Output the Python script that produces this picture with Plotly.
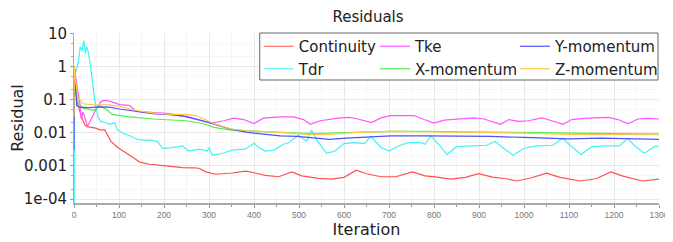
import plotly.graph_objects as go

# ---------------- data ----------------
cont_it = [0, 3, 9, 16, 24, 31, 46, 60, 68, 82, 97, 110, 124, 146, 168, 205, 241, 267, 278, 293, 315, 352,
           381, 400, 425, 455, 484, 506, 543, 572, 600, 627, 650, 682, 715, 752, 780, 807, 837, 870, 899, 930,
           960, 984, 1015, 1050, 1080, 1124, 1160, 1193, 1220, 1263, 1300]
cont_val = [1.0, 0.2, 0.068, 0.032, 0.017, 0.015, 0.014, 0.012, 0.0125, 0.0055, 0.0036, 0.0028, 0.0021,
            0.0013, 0.00112, 0.001, 0.00089, 0.00087, 0.00085, 0.00066, 0.00056, 0.00061, 0.00069, 0.00062,
            0.00052, 0.00047, 0.00066, 0.0005, 0.00042, 0.0004, 0.00045, 0.00074, 0.00058, 0.00047, 0.00047,
            0.00066, 0.0005, 0.00046, 0.0004, 0.00045, 0.00058, 0.00046, 0.00041, 0.00035, 0.00043, 0.0006,
            0.00045, 0.00035, 0.00041, 0.00066, 0.00049, 0.00035, 0.0004]

tke_it = [0, 3, 8, 13, 16, 20, 25, 30, 38, 46, 60, 68, 79, 101, 116, 124, 138, 175, 212, 249, 286, 305, 311,
          333, 355, 377, 400, 421, 458, 488, 510, 525, 547, 591, 613, 631, 661, 682, 704, 756, 778, 800, 822,
          852, 889, 911, 933, 948, 966, 988, 1010, 1040, 1062, 1087, 1106, 1135, 1187, 1209, 1231, 1253, 1275,
          1300]
tke_val = [1.0, 0.5, 0.2, 0.083, 0.026, 0.042, 0.025, 0.016, 0.025, 0.043, 0.087, 0.095, 0.09, 0.071, 0.068,
           0.066, 0.044, 0.04, 0.038, 0.03, 0.023, 0.0195, 0.0204, 0.023, 0.0275, 0.025, 0.019, 0.0275, 0.03,
           0.03, 0.025, 0.018, 0.023, 0.028, 0.029, 0.026, 0.0204, 0.028, 0.033, 0.033, 0.025, 0.0195, 0.024,
           0.026, 0.028, 0.026, 0.021, 0.018, 0.025, 0.022, 0.023, 0.028, 0.023, 0.018, 0.025, 0.027, 0.029,
           0.025, 0.0185, 0.026, 0.027, 0.026]

ymom_it = [0, 1, 3, 6, 15, 35, 55, 79, 101, 138, 175, 212, 249, 286, 322, 348, 385, 421, 458, 495, 532, 568,
           605, 642, 704, 778, 852, 925, 1000, 1099, 1172, 1246, 1300]
ymom_val = [0.003, 1.0, 0.3, 0.066, 0.058, 0.057, 0.06, 0.059, 0.052, 0.044, 0.038, 0.035, 0.031, 0.023,
            0.016, 0.0129, 0.0102, 0.0089, 0.0081, 0.0078, 0.0069, 0.0063, 0.0069, 0.0072, 0.0081, 0.0081,
            0.0081, 0.0078, 0.0072, 0.0065, 0.0069, 0.0065, 0.0063]

tdr_it = [0, 1, 5, 10, 14, 18, 22, 25, 28, 31, 35, 40, 46, 53, 60, 70, 80, 90, 97, 110, 125, 138, 150, 168,
          185, 197, 215, 241, 255, 278, 296, 300, 307, 330, 352, 380, 400, 412, 425, 445, 465, 477, 499, 517,
          528, 540, 561, 580, 600, 622, 645, 660, 682, 700, 720, 742, 770, 780, 793, 810, 829, 850, 881, 917,
          936, 950, 976, 1000, 1028, 1064, 1086, 1100, 1127, 1150, 1182, 1212, 1230, 1245, 1267, 1293, 1300]
tdr_val = [1e-8, 0.8, 0.7, 1.5, 4.0, 3.0, 6.0, 2.5, 4.0, 3.0, 1.5, 0.4, 0.1, 0.03, 0.022, 0.02, 0.018, 0.02,
           0.012, 0.0095, 0.008, 0.0065, 0.006, 0.006, 0.0055, 0.0034, 0.0035, 0.004, 0.0028, 0.0032, 0.0028,
           0.0035, 0.0021, 0.0024, 0.003, 0.0032, 0.0048, 0.0035, 0.0028, 0.003, 0.0045, 0.005, 0.0085, 0.0055,
           0.012, 0.006, 0.0024, 0.0028, 0.0047, 0.005, 0.0047, 0.0076, 0.0036, 0.0028, 0.0039, 0.005, 0.005,
           0.0045, 0.008, 0.0045, 0.0022, 0.0038, 0.004, 0.0042, 0.0055, 0.0038, 0.0021, 0.0034, 0.004, 0.0042,
           0.0068, 0.0045, 0.0022, 0.0038, 0.004, 0.004, 0.0067, 0.0042, 0.0024, 0.004, 0.0037]

xmom_it = [0, 3, 9, 20, 35, 45, 57, 72, 86, 124, 175, 212, 249, 286, 311, 348, 385, 458, 532, 605, 631, 704,
           778, 852, 925, 1000, 1100, 1172, 1250, 1300]
xmom_val = [1.0, 0.3, 0.08, 0.055, 0.05, 0.048, 0.065, 0.05, 0.035, 0.03, 0.026, 0.025, 0.023, 0.019, 0.0145,
            0.012, 0.0112, 0.0102, 0.0095, 0.0102, 0.0107, 0.011, 0.011, 0.0107, 0.0107, 0.0102, 0.0102,
            0.0098, 0.0095, 0.0091]

zmom_it = [0, 1, 3, 9, 20, 40, 79, 101, 138, 175, 212, 249, 271, 300, 311, 348, 385, 458, 517, 568, 605, 631,
           704, 778, 852, 925, 1000, 1100, 1172, 1250, 1300]
zmom_val = [0.03, 1.0, 0.4, 0.12, 0.075, 0.07, 0.069, 0.063, 0.047, 0.04, 0.036, 0.036, 0.033, 0.023, 0.019,
            0.013, 0.0115, 0.0102, 0.0089, 0.0089, 0.0098, 0.0102, 0.011, 0.0107, 0.0102, 0.0102, 0.0098,
            0.0089, 0.0089, 0.0085, 0.0087]

y_tickvals = [10, 1, 0.1, 0.01, 0.001, 0.0001]
y_ticktext = ["10", "1", "0.1", "0.01", "0.001", "1e-04"]
x_tickvals = [0, 100, 200, 300, 400, 500, 600, 700, 800, 900, 1000, 1100, 1200, 1300]

# ---------------- figure ----------------
# (name, x, y, colour, legend column)
series = [
    ("Continuity", cont_it, cont_val, "#ff5050", "legend"),
    ("Tdr", tdr_it, tdr_val, "#40f4f4", "legend"),
    ("Tke", tke_it, tke_val, "#ff55ff", "legend2"),
    ("X-momentum", xmom_it, xmom_val, "#50ee50", "legend2"),
    ("Y-momentum", ymom_it, ymom_val, "#5050ff", "legend3"),
    ("Z-momentum", zmom_it, zmom_val, "#ffc840", "legend3"),
]

fig = go.Figure()
for name, xs, ys, col, lg in series:
    fig.add_trace(go.Scatter(x=xs, y=ys, mode="lines", name=name, legend=lg,
                             line=dict(color=col, width=1.2)))

FONT = "DejaVu Sans"
# the page body adds an 8px offset, so the figure is sized to fill the 673x242 window from (8, 8)
OFF = 8
W, H = 673 - OFF, 242 - OFF
ML, MR, MT, MB = 74 - OFF, 10, 33 - OFF, 39
PW, PH = W - ML - MR, H - MT - MB


def px_x(p):  # window pixel -> paper x
    return (p - OFF - ML) / PW


def px_y(p):  # window pixel -> paper y
    return 1 - (p - OFF - MT) / PH


def legend_col(left_px):
    return dict(orientation="v", x=px_x(left_px), xanchor="left", y=px_y(30), yanchor="top",
                bgcolor="rgba(0,0,0,0)", borderwidth=0, itemwidth=30, tracegroupgap=0,
                font=dict(family=FONT, size=15, color="#222222"))


fig.update_layout(
    width=W, height=H,
    margin=dict(l=ML, r=MR, t=MT, b=MB),
    paper_bgcolor="white", plot_bgcolor="white",
    font=dict(family=FONT, color="#222222"),
    title=dict(text="Residuals", x=(368 - OFF) / W, xanchor="center",
               y=1 - 3 / H, yanchor="top", pad=dict(t=0, b=0),
               font=dict(family=FONT, size=15, color="#222222")),
    legend=legend_col(260),
    legend2=legend_col(377),
    legend3=legend_col(518),
    showlegend=True,
    shapes=[dict(type="rect", xref="paper", yref="paper",
                 x0=px_x(261), x1=px_x(662), y0=px_y(80), y1=px_y(33),
                 fillcolor="white", line=dict(color="#666666", width=1), layer="above")],
)
fig.update_xaxes(
    range=[0, 1300], tickvals=x_tickvals, automargin=False, ticklabeloverflow="allow",
    tickfont=dict(family="Liberation Sans", size=8.5, color="#777777"),
    ticks="outside", ticklen=3, tickcolor="#999999",
    showline=True, linecolor="#aaaaaa", linewidth=2,
    showgrid=True, gridcolor="#e8e8e8", gridwidth=1,
    minor=dict(dtick=50, ticks="outside", ticklen=2, tickcolor="#999999",
               showgrid=True, gridcolor="#f4f4f4"),
    title=dict(text="Iteration", font=dict(family=FONT, size=16, color="#222222"), standoff=5),
    zeroline=False,
)
fig.update_yaxes(
    type="log", range=[-4.12, 1.01], automargin=False,
    tickvals=y_tickvals, ticktext=y_ticktext,
    tickfont=dict(size=15, color="#222222"),
    ticks="outside", ticklen=3, tickcolor="#999999",
    showline=True, linecolor="#aaaaaa", linewidth=1,
    showgrid=True, gridcolor="#e8e8e8", gridwidth=1,
    minor=dict(ticks="outside", ticklen=2, tickcolor="#aaaaaa",
               showgrid=True, gridcolor="#f6f6f6"),
    title=dict(text="Residual", font=dict(family=FONT, size=16, color="#222222"), standoff=11),
    zeroline=False,
)

fig.write_html("out.html")
